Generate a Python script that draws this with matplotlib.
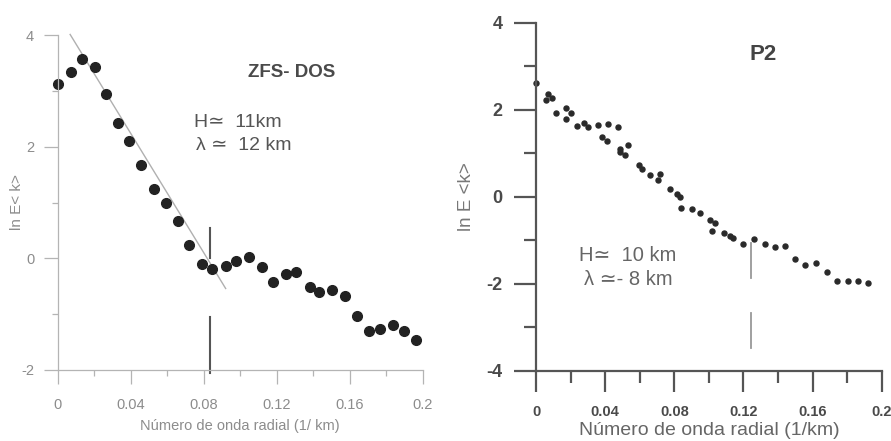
import matplotlib
matplotlib.use('Agg')
import matplotlib.pyplot as plt

plt.rcParams['font.family'] = ['Liberation Sans', 'DejaVu Sans']

# panel ZFS- DOS
zfs_x = [0.0, 0.0071, 0.0135, 0.0205, 0.0265, 0.0329, 0.0393, 0.0458, 0.053, 0.0592,
         0.0661, 0.072, 0.079, 0.0847, 0.092, 0.0975, 0.1048, 0.112, 0.1178, 0.125,
         0.1308, 0.138, 0.143, 0.150, 0.1576, 0.1638, 0.1706, 0.1768, 0.1836, 0.1896, 0.1965]
zfs_y = [3.13, 3.34, 3.57, 3.43, 2.94, 2.43, 2.11, 1.67, 1.24, 0.985,
         0.66, 0.23, -0.10, -0.19, -0.14, -0.04, 0.03, -0.16, -0.42, -0.28,
         -0.245, -0.52, -0.61, -0.57, -0.67, -1.03, -1.30, -1.27, -1.19, -1.30, -1.46]
zfs_fit_x = [0.0068, 0.092]
zfs_fit_y = [4.01, -0.54]
zfs_cut = 0.0835

# panel P2
p2_x = [0.0, 0.0058, 0.0071, 0.0091, 0.0116, 0.0174, 0.0174, 0.0201, 0.0236, 0.0278,
        0.0303, 0.0361, 0.038, 0.0413, 0.0419, 0.0477, 0.0483, 0.0486, 0.0515, 0.0534,
        0.0598, 0.0612, 0.066, 0.0708, 0.0718, 0.0776, 0.0815, 0.0834, 0.0838, 0.0902,
        0.095, 0.1007, 0.1036, 0.1017, 0.1085, 0.1123, 0.1142, 0.120, 0.126, 0.1326,
        0.1384, 0.1442, 0.150, 0.1558, 0.162, 0.1683, 0.1741, 0.1803, 0.186, 0.192]
p2_y = [2.62, 2.22, 2.36, 2.26, 1.93, 2.03, 1.78, 1.93, 1.63, 1.69,
        1.60, 1.65, 1.38, 1.29, 1.67, 1.61, 1.09, 1.03, 0.96, 1.18,
        0.73, 0.63, 0.50, 0.38, 0.52, 0.17, 0.06, -0.01, -0.25, -0.29,
        -0.38, -0.54, -0.61, -0.78, -0.84, -0.90, -0.95, -1.09, -0.98, -1.09,
        -1.15, -1.13, -1.43, -1.57, -1.53, -1.74, -1.93, -1.93, -1.94, -1.99]
p2_cut = 0.1245

x_major = [0, 0.04, 0.08, 0.12, 0.16, 0.2]
x_minor = [0.02, 0.06, 0.10, 0.14, 0.18]
x_labels = ['0', '0.04', '0.08', '0.12', '0.16', '0.2']

fig = plt.figure(figsize=(8.91, 4.41), dpi=100)

# ---- left panel
ax1 = fig.add_axes([0.0648, 0.161, 0.4097, 0.7596])
c1 = '#b4b4b4'
ax1.plot(zfs_fit_x, zfs_fit_y, color='#b0b0b0', lw=1.0, clip_on=False)
ax1.plot(zfs_x, zfs_y, 'o', color='#222222', ms=7, clip_on=False)
ax1.plot([zfs_cut, zfs_cut], [0.54, 0.0], color='#555555', lw=1.5)
ax1.plot([zfs_cut, zfs_cut], [-1.045, -2.06], color='#555555', lw=1.5, clip_on=False)
ax1.set_xlim(0, 0.2)
ax1.set_ylim(-2, 4)
ax1.set_xticks(x_major)
ax1.set_xticks(x_minor, minor=True)
ax1.set_xticklabels(x_labels)
ax1.set_yticks([-2, 0, 2, 4])
ax1.set_yticks([-1, 1, 3], minor=True)
ax1.set_yticklabels(['-2', '0', '2', '4'])
for s in ['top', 'right']:
    ax1.spines[s].set_visible(False)
for s in ['left', 'bottom']:
    ax1.spines[s].set_color(c1)
    ax1.spines[s].set_linewidth(0.9)
ax1.tick_params(which='major', length=10, width=0.9, color=c1, labelcolor='#8c8c8c',
                labelsize=10.5, pad=7)
ax1.tick_params(axis='x', which='major', pad=10)
ax1.tick_params(which='minor', length=4.5, width=0.9, color=c1)
ax1.set_xlabel('Número de onda radial (1/ km)', fontsize=10.5, color='#8c8c8c', labelpad=5)
ax1.set_ylabel('ln E< k>', fontsize=11, color='#8c8c8c', labelpad=-2)
ax1.text(0.128, 3.33, 'ZFS- DOS', ha='center', va='center', fontsize=13.5,
         fontweight='bold', color='#4a4a4a')
ax1.text(0.0749, 2.43, 'H≃  11km', ha='left', va='center', fontsize=14, color='#555555')
ax1.text(0.076, 2.02, 'λ ≃  12 km', ha='left', va='center', fontsize=14, color='#555555')

# ---- right panel
ax2 = fig.add_axes([0.6016, 0.1594, 0.388, 0.789])
c2 = '#555555'
ax2.plot(p2_x, p2_y, 'o', color='#2a2a2a', ms=3.6, clip_on=False)
ax2.plot([p2_cut, p2_cut], [-1.06, -1.87], color='#999999', lw=1.3)
ax2.plot([p2_cut, p2_cut], [-2.68, -3.48], color='#999999', lw=1.3)
ax2.set_xlim(0, 0.2)
ax2.set_ylim(-4, 4)
ax2.set_xticks(x_major)
ax2.set_xticks(x_minor, minor=True)
ax2.set_xticklabels(x_labels)
ax2.set_yticks([-4, -2, 0, 2, 4])
ax2.set_yticks([-3, -1, 1, 3], minor=True)
ax2.set_yticklabels(['-4', '-2', '0', '2', '4'])
for s in ['top', 'right']:
    ax2.spines[s].set_visible(False)
for s in ['left', 'bottom']:
    ax2.spines[s].set_color(c2)
    ax2.spines[s].set_linewidth(1.6)
ax2.tick_params(which='major', length=16, width=1.6, color=c2, labelcolor='#4a4a4a', pad=8)
ax2.tick_params(which='minor', length=8.5, width=1.6, color=c2)
ax2.tick_params(axis='x', which='major', length=15, labelsize=10.5, pad=10)
ax2.tick_params(axis='y', labelsize=13)
for lab in ax2.get_xticklabels() + ax2.get_yticklabels():
    lab.set_fontweight('bold')
ax2.set_xlabel('Número de onda radial (1/km)', fontsize=14, color='#666666', labelpad=2)
ax2.set_ylabel('ln E <k>', fontsize=13.5, color='#777777', labelpad=8)
ax2.text(0.1314, 3.26, 'P2', ha='center', va='center', fontsize=16,
         fontweight='bold', color='#444444')
ax2.text(0.0251, -1.34, 'H≃  10 km', ha='left', va='center', fontsize=14.5, color='#666666')
ax2.text(0.0278, -1.91, 'λ ≃- 8 km', ha='left', va='center', fontsize=14.5, color='#666666')

fig.savefig('out.png', dpi=100)
